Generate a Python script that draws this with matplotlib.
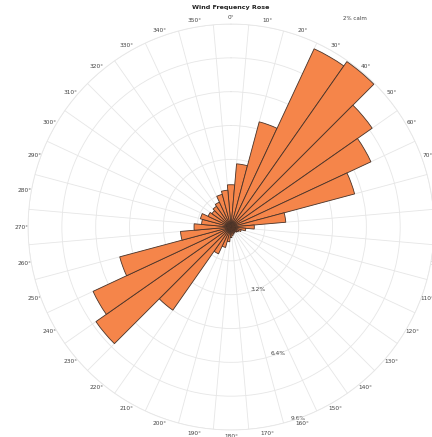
import numpy as np
import matplotlib.pyplot as plt

# wind direction bins (degrees, bin centres) and frequency (% of time)
directions = np.arange(0, 360, 10)
frequency = [2.0, 3.0, 5.15, 9.3, 9.55, 8.15, 7.3, 6.05, 2.6,
             1.1, 0.7, 0.5, 0.4, 0.35, 0.3, 0.3, 0.35, 0.4,
             0.5, 0.7, 1.0, 1.4, 4.8, 7.8, 7.2, 5.45, 2.4,
             1.75, 1.4, 1.5, 1.2, 1.1, 1.2, 1.3, 1.6, 1.75]
ring_ticks = [1.6, 3.2, 4.8, 6.4, 8.0, 9.6]
ring_labels = ["", "3.2%", "", "6.4%", "", "9.6%"]
calm_note = "2% calm"

fig = plt.figure(figsize=(4.32, 4.37), dpi=100)
ax = fig.add_axes([0.0648, 0.016, 0.94, 0.929], projection="polar")
ax.set_theta_zero_location("N")
ax.set_theta_direction(-1)

width = np.deg2rad(10)
ax.bar(np.deg2rad(directions), frequency, width=width, bottom=0,
       color="#F5854A", edgecolor="#4a3328", linewidth=0.6, zorder=3)

ax.set_ylim(0, 9.6)
ax.set_yticks(ring_ticks)
ax.set_yticklabels(ring_labels, fontsize=4.2, color="#444444")
ax.set_rlabel_position(163)

# labels at bin centres, grid lines on the bin edges
ax.set_xticks(np.deg2rad(directions))
ax.set_xticklabels([f"{d}°" for d in directions], fontsize=4.2, color="#444444")
ax.set_xticks(np.deg2rad(directions + 5), minor=True)
ax.tick_params(axis="x", which="major", pad=-2.5, length=0)
ax.tick_params(axis="x", which="minor", length=0)
ax.xaxis.grid(False, which="major")
ax.xaxis.grid(True, which="minor", color="#e6e6e6", linewidth=0.6)
ax.yaxis.grid(True, color="#e6e6e6", linewidth=0.6)
ax.spines["polar"].set_color("#e6e6e6")
ax.spines["polar"].set_linewidth(0.6)
ax.set_axisbelow(True)

fig.text(0.535, 0.988, "Wind Frequency Rose", ha="center", va="top",
         fontsize=4.6, fontweight="bold", color="#222222")
fig.text(0.795, 0.958, calm_note, ha="left", va="center",
         fontsize=4.0, color="#444444")

fig.savefig("out.png", dpi=100)
